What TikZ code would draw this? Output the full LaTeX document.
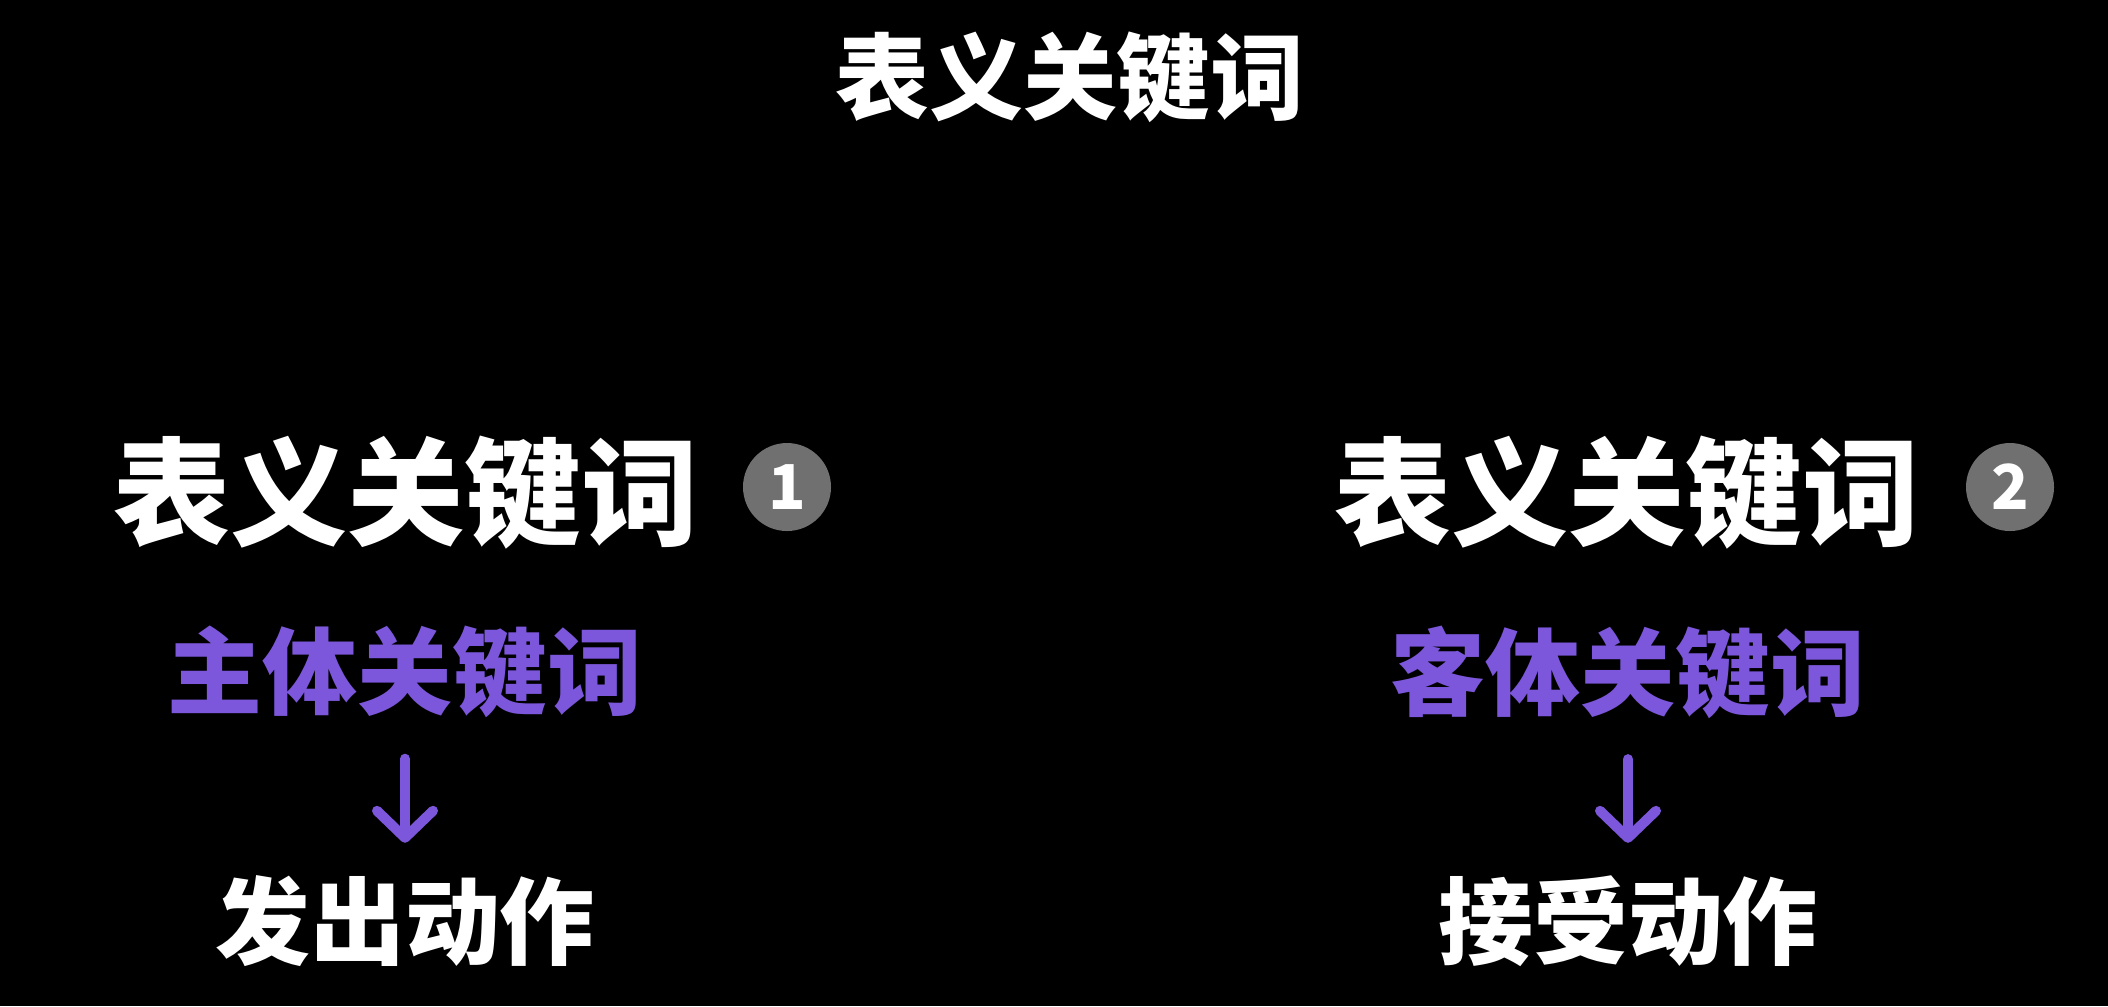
\documentclass[tikz,border=0pt]{standalone}
\usepackage{fontspec}
\usepackage{tikz}
\usetikzlibrary{arrows.meta, positioning}
\newfontfamily\cjk{Noto Sans CJK SC}
\definecolor{kwpurple}{RGB}{124,87,219}
\definecolor{numgray}{RGB}{112,112,112}

\begin{document}
\begin{tikzpicture}[
    title/.style={text=white, inner sep=0pt, font=\cjk\bfseries\fontsize{26.7pt}{30pt}\selectfont},
    big/.style={text=white, inner sep=0pt, font=\cjk\bfseries\fontsize{33.3pt}{38pt}\selectfont},
    kw/.style={text=kwpurple, inner sep=0pt, font=\cjk\bfseries\fontsize{27pt}{31pt}\selectfont},
    act/.style={text=white, inner sep=0pt, font=\cjk\bfseries\fontsize{27pt}{31pt}\selectfont},
    num/.style={circle, fill=numgray, minimum size=0.88cm, inner sep=0pt, text=white,
        font=\cjk\bfseries\fontsize{17.6pt}{20pt}\selectfont},
    kwarrow/.style={-{Straight Barb[length=0.27cm, width=0.56cm, round]}, kwpurple,
        line width=0.1cm, line cap=round, shorten <=0.4cm, shorten >=0.32cm}
]
    % Background
    \fill[black] (0,0) rectangle (21.08,-10.06);
    \useasboundingbox (0,0) rectangle (21.08,-10.06);

    % Title
    \node[title] (t) at (10.70,-0.77) {表义关键词};

    % Left column
    \node[big] (b1) at (4.06,-4.93) {表义关键词};
    \node[num] (n1) at (7.87,-4.87) {1};
    \node[kw] (kw1) at (4.05,-6.72) {主体关键词};
    \node[act] (a1) at (4.05,-9.21) {发出动作};
    \draw[kwarrow] (kw1.south) -- (a1.north);

    % Right column
    \node[big] (b2) at (16.27,-4.93) {表义关键词};
    \node[num] (n2) at (20.10,-4.87) {2};
    \node[kw] (kw2) at (16.28,-6.72) {客体关键词};
    \node[act] (a2) at (16.28,-9.21) {接受动作};
    \draw[kwarrow] (kw2.south) -- (a2.north);
\end{tikzpicture}
\end{document}
